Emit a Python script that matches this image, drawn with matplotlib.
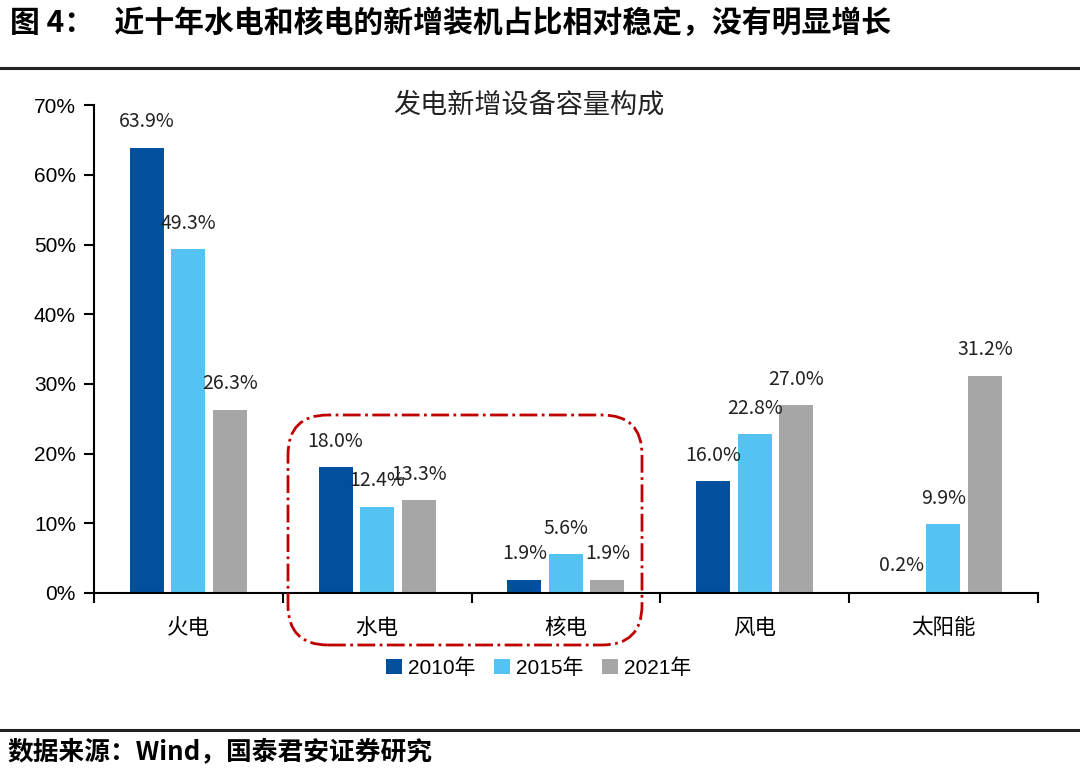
import numpy as np
import matplotlib
matplotlib.use("Agg")
import matplotlib.pyplot as plt
from matplotlib.patches import FancyBboxPatch, Patch
from matplotlib.lines import Line2D
from matplotlib.transforms import IdentityTransform

plt.rcParams['font.family'] = ['Noto Sans CJK SC', 'DejaVu Sans']

categories = ['火电', '水电', '核电', '风电', '太阳能']
years = ['2010年', '2015年', '2021年']
share_2010 = [63.9, 18.0, 1.9, 16.0, 0.2]
share_2015 = [49.3, 12.4, 5.6, 22.8, 9.9]
share_2021 = [26.3, 13.3, 1.9, 27.0, 31.2]
yticks = [0, 10, 20, 30, 40, 50, 60, 70]

COLORS = ['#00509E', '#55C3F1', '#A6A6A6']
LATIN = ['Liberation Sans', 'Noto Sans CJK SC']


def main():
    fig = plt.figure(figsize=(10.8, 7.68), dpi=100)
    ax = fig.add_axes([0.087, 0.228, 0.874, 0.635])

    x = np.arange(len(categories))
    pitch = 0.22
    width = 0.18
    series = [share_2010, share_2015, share_2021]
    for i, (vals, color) in enumerate(zip(series, COLORS)):
        pos = x + (i - 1) * pitch
        ax.bar(pos, vals, width=width, color=color, zorder=2)
        for px, v in zip(pos, vals):
            ax.annotate(f"{v:.1f}%", (px, v), xytext=(0, 11), textcoords='offset points',
                        ha='center', va='bottom', fontsize=14, color='#222222')

    ax.set_xlim(-0.5, len(categories) - 0.5)
    ax.set_ylim(0, 70)
    ax.set_yticks(yticks)
    ax.set_yticklabels([f"{t}%" for t in yticks], family=LATIN, fontsize=15)
    ax.set_xticks(np.arange(-0.5, len(categories)))
    ax.set_xticklabels([])
    ax.set_xticks(x, minor=True)
    ax.set_xticklabels(categories, minor=True, fontsize=15.5)
    ax.tick_params(axis='x', which='minor', length=0, pad=17)
    ax.tick_params(axis='x', which='major', length=7, width=1.5, direction='out')
    ax.tick_params(axis='y', length=7, width=1.5, direction='out', pad=6)
    for side in ['top', 'right']:
        ax.spines[side].set_visible(False)
    for side in ['left', 'bottom']:
        ax.spines[side].set_linewidth(1.5)
    fig.text(0.49, 0.863, '发电新增设备容量构成', ha='center', va='center',
             fontsize=19.5, color='#222222')

    handles = [Patch(facecolor=c, edgecolor='none') for c in COLORS]
    fig.legend(handles, years, loc='center', bbox_to_anchor=(0.499, 0.13), ncol=3,
               frameon=False, handlelength=0.75, handleheight=0.75, handletextpad=0.3,
               columnspacing=0.9, prop={'family': LATIN, 'size': 15})

    # dash-dot rounded frame around hydro and nuclear
    box = FancyBboxPatch((288, 768 - 645), 354, 230,
                         boxstyle='round,pad=0,rounding_size=40',
                         transform=IdentityTransform(), fill=False,
                         edgecolor='#C00000', linewidth=2, linestyle='-.',
                         clip_on=False)
    fig.patches.append(box)

    fig.text(0.009, 0.970, '图 4：   近十年水电和核电的新增装机占比相对稳定，没有明显增长',
             ha='left', va='center', fontsize=21.5, fontweight='bold')
    fig.add_artist(Line2D([0, 1], [0.912, 0.912], color='#222222', lw=2.2))
    fig.add_artist(Line2D([0, 1], [0.049, 0.049], color='#222222', lw=2.2))
    fig.text(0.007, 0.021, '数据来源：Wind，国泰君安证券研究', ha='left', va='center',
             fontsize=18.5, fontweight='bold')

    fig.savefig('out.png', dpi=100)


if __name__ == '__main__':
    main()
